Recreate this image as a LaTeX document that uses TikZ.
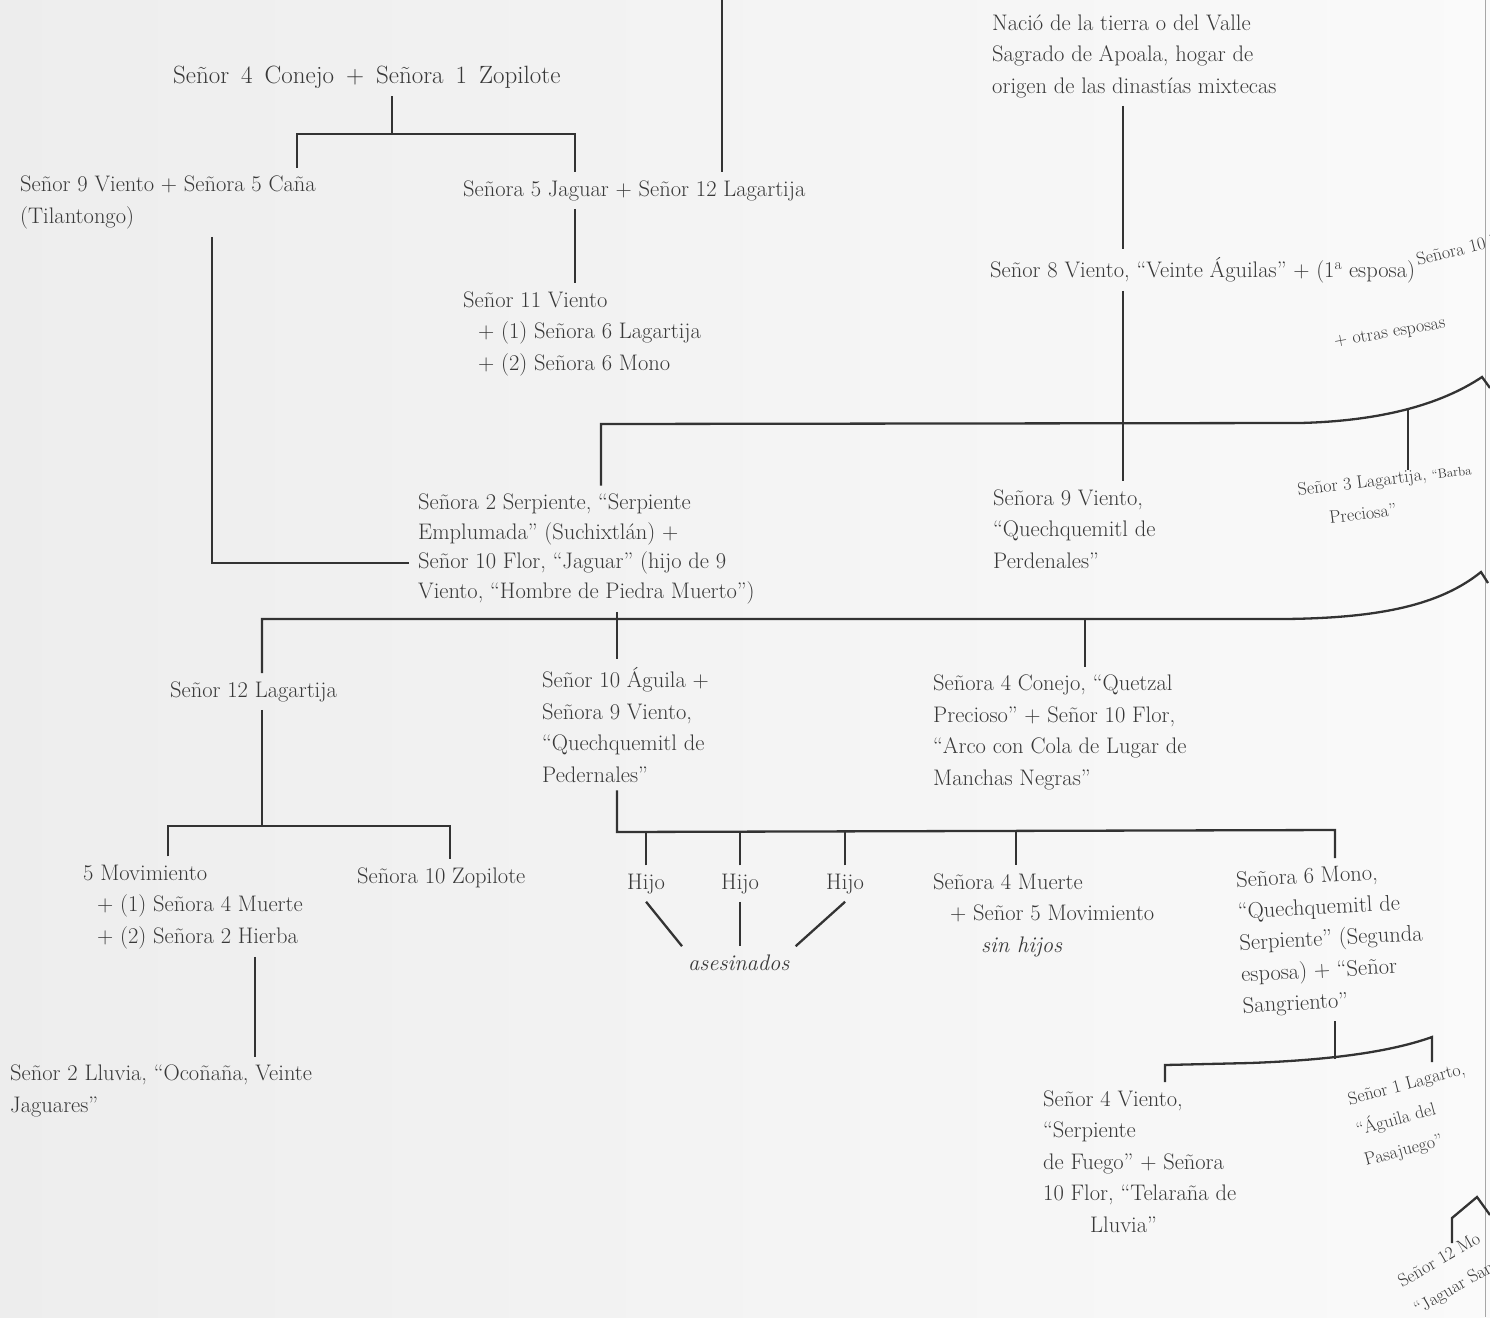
\documentclass[tikz,border=0pt]{standalone}
\usepackage{fontspec}
\usepackage{xcolor}

\begin{document}
\begin{tikzpicture}[x=1pt,y=-1pt,
        every node/.style={font=\fontsize{22.5}{31.5}\selectfont, text=black!78},
        person/.style={anchor=base west, align=left, inner xsep=0pt, inner ysep=8pt},
        curled/.style={person, font=\fontsize{18}{31.5}\selectfont},
        tie/.style={line width=2.3pt, draw=black!80}]

        \useasboundingbox (0,0) rectangle (1490,1317);
        \shade[left color=black!7, right color=black!2] (0,0) rectangle (1490,1317);
        \draw[black!35, line width=0.8pt] (1485,0) -- (1485,1317);

        % left branch
        \node (conejo) [person, font=\fontsize{25}{31.5}\selectfont] at (173,83) {\spaceskip=12pt\relax Señor 4 Conejo + Señora 1 Zopilote};
        \node (viento9) [person] at (20,223) {Señor 9 Viento + Señora 5 Caña\\(Tilantongo)};
        \node (jaguar5) [person] at (463,196) {Señora 5 Jaguar + Señor 12 Lagartija};
        \node (viento11) [person] at (463,370) {Señor 11 Viento\\\hspace*{15pt}+ (1) Señora 6 Lagartija\\\hspace*{15pt}+ (2) Señora 6 Mono};

        % right branch
        \node (apoala) [person] at (992,93) {Nació de la tierra o del Valle\\Sagrado de Apoala, hogar de\\origen de las dinastías mixtecas};
        \node (viento8) [person] at (990,277) {Señor 8 Viento, “Veinte Águilas” + (1\textsuperscript{a} esposa)};
        \node (venado10) [curled, rotate=14] at (1418,266) {Señora 10 V};
        \node (otras) [curled, rotate=10] at (1335,347) {+ otras esposas};

        \node (serpiente2) [person, font=\fontsize{22.5}{29.5}\selectfont] at (418,598) {Señora 2 Serpiente, “Serpiente\\Emplumada” (Suchixtlán) +\\Señor 10 Flor, “Jaguar” (hijo de 9\\Viento, “Hombre de Piedra Muerto”)};
        \node (viento9b) [person] at (993,568) {Señora 9 Viento,\\“Quechquemitl de\\Perdenales”};
        \node (lagartija3) [curled, rotate=7] at (1302,527) {Señor 3 Lagartija, {\fontsize{13}{13}\selectfont“Barba}\\\hspace*{28pt}Preciosa”};

        \node (lagartija12) [person] at (170,697) {Señor 12 Lagartija};
        \node (aguila10) [person] at (542,782) {Señor 10 Águila +\\Señora 9 Viento,\\“Quechquemitl de\\Pedernales”};
        \node (conejo4) [person] at (933,785) {Señora 4 Conejo, “Quetzal\\Precioso” + Señor 10 Flor,\\“Arco con Cola de Lugar de\\Manchas Negras”};

        \node (movim5) [person] at (83,943) {5 Movimiento\\\hspace*{14pt}+ (1) Señora 4 Muerte\\\hspace*{14pt}+ (2) Señora 2 Hierba};
        \node (zopilote10) [person] at (357,883) {Señora 10 Zopilote};
        \node (hijoa) [person] at (627,889) {Hijo};
        \node (hijob) [person] at (721,889) {Hijo};
        \node (hijoc) [person] at (826,889) {Hijo};
        \node (asesinados) [person] at (688,970) {\itshape asesinados};
        \node (muerte4) [person] at (933,952) {Señora 4 Muerte\\\hspace*{17pt}+ Señor 5 Movimiento\\\hspace*{48pt}\itshape sin hijos};
        \node (mono6) [person, rotate=3] at (1243,1013) {Señora 6 Mono,\\“Quechquemitl de\\Serpiente” (Segunda\\esposa) + “Señor\\Sangriento”};

        \node (lluvia2) [person] at (10,1112) {Señor 2 Lluvia, “Ocoñaña, Veinte\\Jaguares”};
        \node (viento4) [person] at (1043,1232) {Señor 4 Viento,\\“Serpiente\\de Fuego” + Señora\\10 Flor, “Telaraña de\\\hspace*{47pt}Lluvia”};
        \node (lagarto1) [curled, rotate=15] at (1366,1166) {Señor 1 Lagarto,\\“Águila del\\Pasajuego”};
        \node (mono12) [curled, rotate=30] at (1418,1315) {Señor 12 Mo\\“Jaguar Sang};

        % junctions
        \coordinate (ttop) at (722,0);
        \coordinate (jconejo) at (392,134);
        \coordinate (jcana) at (297,134);
        \coordinate (jjag) at (575,134);
        \coordinate (jflor) at (212,563);
        \coordinate (jviento8) at (1123,0);
        \coordinate (jserp) at (601,424);
        \coordinate (jbarba) at (1408,410);
        \coordinate (jlag12) at (262,619);
        \coordinate (jaguila) at (617,619);
        \coordinate (jconejo4) at (1085,619);
        \coordinate (jlagb) at (262,826);
        \coordinate (jmov) at (168,826);
        \coordinate (jzop) at (450,826);
        \coordinate (jhijos) at (617,832);
        \coordinate (jmuerte) at (1016,832);
        \coordinate (jmono) at (1335,830);
        \coordinate (jhierba) at (255,0);
        \coordinate (jsangre) at (1335,1059);
        \coordinate (jviento4) at (1165,1065);
        \coordinate (jlagarto) at (1432,1037);

        % connectors
        \draw[tie] (ttop) -- (ttop |- jaguar5.north);
        \draw[tie] (jconejo |- conejo.south) -- (jconejo);
        \draw[tie] (jcana |- viento9.north) -- (jcana) -- (jjag) -- (jjag |- jaguar5.north);
        \draw[tie] (jjag |- jaguar5.south) -- (jjag |- viento11.north);
        \draw[tie] (jflor |- viento9.south) -- (jflor) -- ([xshift=-9pt]serpiente2.west |- jflor);

        \draw[tie] (jviento8 |- apoala.south) -- (jviento8 |- viento8.north);
        \draw[tie] (jviento8 |- viento8.south) -- (jviento8 |- viento9b.north);
        \draw[tie] (jserp |- serpiente2.north) -- (jserp) -- (1300,423)
            .. controls (1380,421) and (1440,405) .. (1482,377) -- (1490,388);
        \draw[tie] (jbarba) -- ++(0,60);

        \draw[tie] (jlag12 |- lagartija12.north) -- (jlag12) -- (1285,619)
            .. controls (1380,618) and (1440,605) .. (1481,572) -- (1488,583);
        \draw[tie] (jaguila |- serpiente2.south) -- (jaguila |- aguila10.north);
        \draw[tie] (jconejo4) -- (jconejo4 |- conejo4.north);

        \draw[tie] (jlagb |- lagartija12.south) -- (jlagb);
        \draw[tie] (jmov |- movim5.north) -- (jmov) -- (jzop) -- (jzop |- zopilote10.north);
        \draw[tie] (jhierba |- movim5.south) -- (jhierba |- lluvia2.north);

        \draw[tie] (jhijos |- aguila10.south) -- (jhijos) -- (jmono) -- ++(0,28);
        \draw[tie] (hijoa.north) -- (hijoa.north |- jhijos);
        \draw[tie] (hijob.north) -- (hijob.north |- jhijos);
        \draw[tie] (hijoc.north) -- (hijoc.north |- jhijos);
        \draw[tie] (jmuerte) -- (jmuerte |- muerte4.north);
        \draw[tie] (hijoa.south) -- ([xshift=-6pt]asesinados.north west);
        \draw[tie] (hijob.south) -- (hijob.south |- asesinados.north);
        \draw[tie] (hijoc.south) -- ([xshift=6pt]asesinados.north east);

        \draw[tie] (jsangre) -- ++(0,-38);
        \draw[tie] (jviento4 |- viento4.north) -- (jviento4) -- (1250,1063)
            .. controls (1330,1060) and (1390,1052) .. (jlagarto) -- ++(0,25);
        \draw[tie] (1452,1243) -- (1452,1218) -- (1477,1197) -- (1490,1215);
\end{tikzpicture}
\end{document}
